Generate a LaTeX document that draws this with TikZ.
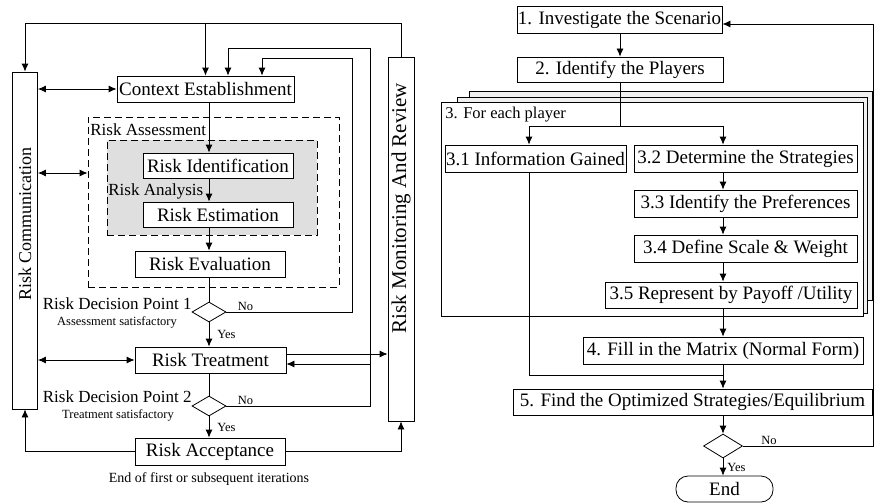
\documentclass[tikz,border=0pt]{standalone}
\usepackage{fontspec}
\setmainfont{Liberation Serif}
\usetikzlibrary{arrows.meta}
\usetikzlibrary{shapes.geometric}
\usetikzlibrary{positioning}

\begin{document}
\begin{tikzpicture}[x=1pt,y=-1pt,>={Latex[length=8pt,width=7pt]},line width=0.8pt,
    box/.style={draw,fill=white,inner sep=1pt,minimum height=26pt,font=\fontsize{19}{21}\selectfont},
    side box/.style={draw,fill=white,minimum width=25pt},
    side text/.style={rotate=90,font=\fontsize{18}{20}\selectfont},
    decision/.style={diamond,draw,fill=white,inner sep=0pt,minimum width=34pt,minimum height=20pt},
    tag/.style={inner sep=1pt,font=\fontsize{17}{19}\selectfont},
    small tag/.style={inner sep=1pt,font=\fontsize{12.5}{14}\selectfont},
    dash box/.style={draw,dash pattern=on 7pt off 4pt},
    page/.style={draw,fill=gray!12}]
  \useasboundingbox (0,0) rectangle (874,503);

  % risk management process
  \node[side box,minimum height=337pt] (comm) at (25,240.5) {};
  \node[side text] at (25,224) {Risk Communication};
  \node[side box,minimum width=26pt,minimum height=364pt] (mon) at (401,239) {};
  \node[side text,font=\fontsize{21}{23}\selectfont] at (401,208) {Risk Monitoring And Review};

  \node[dash box,minimum width=251pt,minimum height=170pt] (assess) at (213.5,202) {};
  \node[dash box,fill=gray!25,minimum width=210pt,minimum height=95pt] (analysis) at (212,187.5) {};
  \node[tag,anchor=west] at (89,130) {Risk Assessment};
  \node[tag,anchor=west] at (107,191) {Risk Analysis};

  \node[box,minimum width=177pt] (ctx) at (205.5,89) {Context Establishment};
  \node[box,minimum width=150pt,minimum height=25pt] (ident) at (218,165.5) {Risk Identification};
  \node[box,minimum width=150pt,minimum height=25pt] (estim) at (218,214.5) {Risk Estimation};
  \node[box,minimum width=150pt] (evalu) at (210,264) {Risk Evaluation};
  \node[decision] (dp1) at (209,312) {};
  \node[box,minimum width=151pt] (treat) at (210.5,360) {Risk Treatment};
  \node[decision] (dp2) at (209,406) {};
  \node[box,minimum width=150pt,minimum height=27pt] (accept) at (210,451.5) {Risk Acceptance};

  \node[tag,anchor=base east] at (193,309.5) {Risk Decision Point 1};
  \node[small tag,anchor=base] at (117,325) {Assessment satisfactory};
  \node[tag,anchor=base east] at (193,402.5) {Risk Decision Point 2};
  \node[small tag,anchor=base] at (118,418) {Treatment satisfactory};
  \node[small tag,above right=0pt and 10pt of dp1.east] {No};
  \node[small tag,above right=0pt and 10pt of dp2.east] {No};
  \node[font=\fontsize{14}{16}\selectfont] at (209,479) {End of first or subsequent iterations};

  \coordinate (col) at (209,0);
  \coordinate (top) at (0,23);
  \coordinate (a2) at (0,173);
  \coordinate (fb1) at (352,58);
  \coordinate (fb2) at (370,48);
  \coordinate (j2) at (370,364);

  \draw[->] (ctx.south -| col) -- (ident.north -| col);
  \draw[->] (ident.south -| col) -- (estim.north -| col);
  \draw[->] (estim.south -| col) -- (evalu.north -| col);
  \draw (evalu.south -| col) -- (dp1.north);
  \draw[->] (dp1.south) -- node[small tag,right=7pt]{Yes} (treat.north -| col);
  \draw (treat.south -| col) -- (dp2.north);
  \draw[->] (dp2.south) -- node[small tag,right=7pt]{Yes} (accept.north -| col);

  \draw[->] (mon.north) |- (top -| comm.north) -- (comm.north);
  \draw[->] (top -| ctx.north) -- (ctx.north);
  \draw[->] (dp1.east) -| (fb1) -| ([xshift=56.5pt]ctx.north);
  \draw[->] (dp2.east) -| (fb2) -| ([xshift=22.5pt]ctx.north);
  \draw[->] (j2) -- (j2 -| treat.east);
  \draw[->] ([yshift=6pt]treat.east) -- ([yshift=6pt]treat.east -| mon.west);
  \draw[<->] (comm.east |- ctx.west) -- (ctx.west);
  \draw[<->] (comm.east |- a2) -- (assess.west |- a2);
  \draw[<->] (comm.east |- treat.west) -- (treat.west);
  \draw[->] (accept.west) -| (comm.south);
  \draw[->] (accept.east) -| (mon.south);

  % game theory steps
  \draw[page] (469,91) rectangle (872,300);
  \draw[page] (457,97) rectangle (867,313);
  \node[draw,fill=white,minimum width=422pt,minimum height=214pt] (each) at (652,209) {};
  \node[inner sep=1pt,anchor=west,font=\fontsize{16.5}{18}\selectfont] at (444,115) {3. For each player};

  \node[box,minimum width=205pt,minimum height=27pt] (inv) at (619.5,19.5) {1. Investigate the Scenario};
  \node[box,minimum width=206pt,minimum height=25pt] (players) at (620,69.5) {2. Identify the Players};
  \node[box,minimum width=181pt,minimum height=27pt] (info) at (535.5,158.5) {3.1 Information Gained};
  \node[box,minimum width=223pt,minimum height=27pt] (strat) at (745.5,158.5) {3.2 Determine the Strategies};
  \node[box,minimum width=223pt,minimum height=27pt] (prefs) at (745.5,203.5) {3.3 Identify the Preferences};
  \node[box,minimum width=223pt,minimum height=27pt] (scale) at (745.5,248.5) {3.4 Define Scale \& Weight};
  \node[box,minimum width=252pt] (payoff) at (731,295) {3.5 Represent by Payoff /Utility};
  \node[box,minimum width=280pt,minimum height=27pt] (matrix) at (723,350.5) {4. Fill in the Matrix (Normal Form)};
  \node[box,minimum width=359pt] (optim) at (692.5,402) {5. Find the Optimized Strategies/Equilibrium};
  \node[decision,minimum width=39pt,minimum height=24pt] (dec) at (723,446) {};
  \node[box,rounded corners=12pt,minimum width=97pt] (stop) at (724.5,489) {End};

  \coordinate (split) at (620,126);
  \coordinate (c31) at (529,0);
  \coordinate (c32) at (723,0);
  \coordinate (join) at (723,375);
  \coordinate (ret) at (873,446);

  \draw[->] (inv.south -| players.north) -- (players.north);
  \draw (players.south) -- (split);
  \draw[->] (split) -| (info.north -| c31);
  \draw[->] (split) -| (strat.north -| c32);
  \draw[->] (strat.south -| c32) -- (prefs.north -| c32);
  \draw[->] (prefs.south -| c32) -- (scale.north -| c32);
  \draw[->] (scale.south -| c32) -- (payoff.north -| c32);
  \draw[->] (payoff.south -| c32) -- (matrix.north -| c32);
  \draw (info.south -| c31) |- (join);
  \draw[->] (matrix.south -| c32) -- (optim.north -| c32);
  \draw[->] (optim.south -| c32) -- (dec.north);
  \draw[->] (dec.south) -- node[small tag,right=3pt]{Yes} (stop.north -| dec.south);
  \draw[->] (dec.east) -- node[small tag,pos=0.2,above]{No} (ret) |- ([yshift=-4.5pt]inv.east);
\end{tikzpicture}
\end{document}
